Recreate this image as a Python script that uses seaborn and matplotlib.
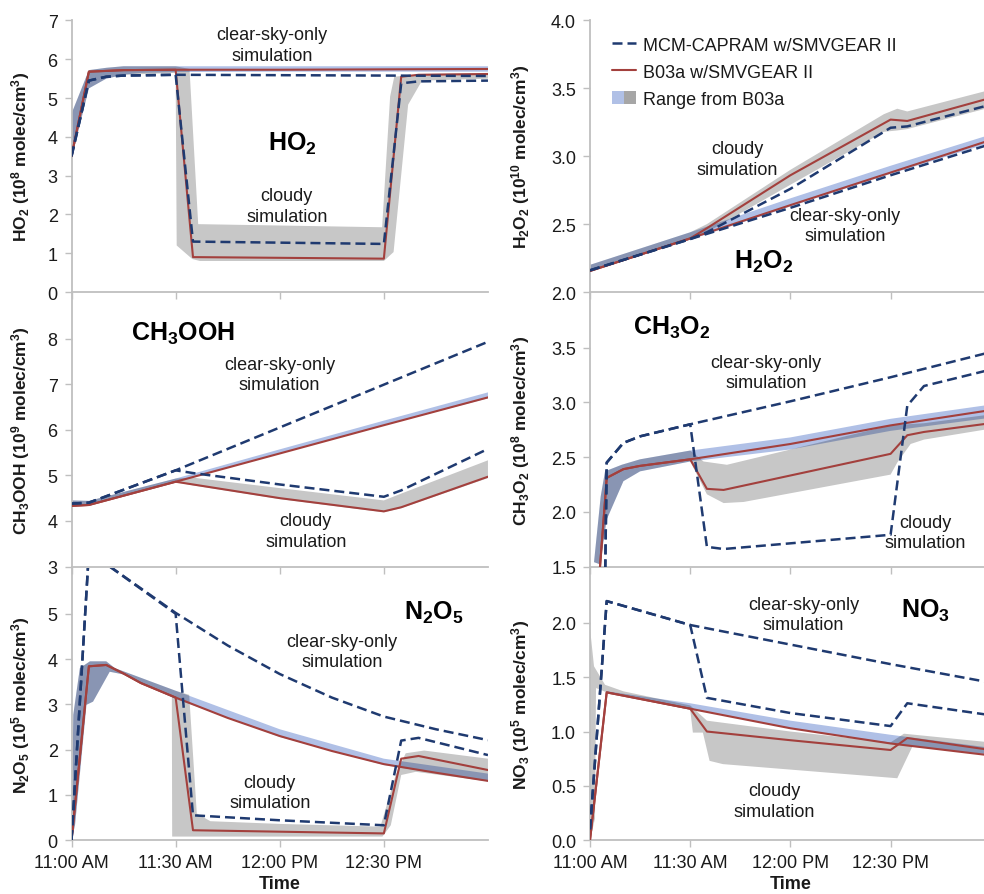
import matplotlib.pyplot as plt
import seaborn as sns
from matplotlib.patches import Patch
from matplotlib.lines import Line2D
from matplotlib.legend_handler import HandlerTuple

# ---- data (time in minutes after 11:00 AM) ----
TICK_T = [0, 30, 60, 90]
TICK_LABELS = ["11:00 AM", "11:30 AM", "12:00 PM", "12:30 PM"]

# HO2 (1e8 molec/cm3)
HO2_T_CLEAR = [0, 5, 10, 15, 30, 60, 90, 120]
HO2_B03A_CLEAR = [3.5, 5.68, 5.7, 5.72, 5.73, 5.73, 5.74, 5.75]
HO2_MCM_CLEAR = [3.5, 5.45, 5.55, 5.58, 5.6, 5.59, 5.58, 5.57]
HO2_T_CLOUDY = [0, 5, 10, 15, 30, 35, 90, 95, 100, 120]
HO2_B03A_CLOUDY = [3.5, 5.68, 5.7, 5.72, 5.73, 0.9, 0.86, 5.55, 5.6, 5.62]
HO2_MCM_CLOUDY = [3.5, 5.45, 5.55, 5.58, 5.6, 1.3, 1.24, 5.38, 5.43, 5.45]
HO2_CLEAR_T = [0, 5, 10, 15, 20, 30, 60, 90, 120]
HO2_CLEAR_LO = [3.45, 5.25, 5.5, 5.6, 5.65, 5.67, 5.68, 5.68, 5.68]
HO2_CLEAR_HI = [4.6, 5.72, 5.78, 5.82, 5.82, 5.82, 5.82, 5.82, 5.82]
HO2_CLOUDY_HI_T = [0, 5, 10, 15, 30, 34, 36.5, 89.5, 91.8, 93, 101, 120]
HO2_CLOUDY_HI = [4.6, 5.72, 5.78, 5.82, 5.82, 5.75, 1.75, 1.67, 5.04, 5.55, 5.62, 5.65]
HO2_CLOUDY_LO_T = [0, 5, 10, 15, 30, 30.3, 34.8, 37, 90, 92.8, 97, 101, 120]
HO2_CLOUDY_LO = [3.45, 5.25, 5.5, 5.6, 5.65, 1.2, 0.85, 0.8, 0.8, 1.03, 4.83, 5.45, 5.5]

# H2O2 (1e10 molec/cm3)
H2O2_T_CLEAR = [0, 30, 60, 90, 120]
H2O2_B03A_CLEAR = [2.155, 2.395, 2.64, 2.88, 3.12]
H2O2_MCM_CLEAR = [2.16, 2.39, 2.62, 2.86, 3.09]
H2O2_T_CLOUDY = [0, 30, 35, 60, 90, 95, 120]
H2O2_B03A_CLOUDY = [2.155, 2.395, 2.47, 2.86, 3.27, 3.26, 3.43]
H2O2_MCM_CLOUDY = [2.16, 2.39, 2.44, 2.76, 3.21, 3.22, 3.38]
H2O2_CLEAR_T = [0, 30, 60, 90, 120]
H2O2_CLEAR_LO = [2.15, 2.385, 2.63, 2.87, 3.1]
H2O2_CLEAR_HI = [2.2, 2.44, 2.69, 2.93, 3.16]
H2O2_CLOUDY_T = [0, 30, 35, 60, 88, 92, 95, 120]
H2O2_CLOUDY_LO = [2.15, 2.385, 2.44, 2.79, 3.18, 3.19, 3.2, 3.36]
H2O2_CLOUDY_HI = [2.2, 2.44, 2.5, 2.9, 3.31, 3.35, 3.33, 3.49]

# CH3OOH (1e9 molec/cm3)
CH3OOH_T_CLEAR = [0, 5, 30, 60, 90, 120]
CH3OOH_B03A_CLEAR = [4.33, 4.35, 4.86, 5.48, 6.1, 6.71]
CH3OOH_MCM_CLEAR = [4.38, 4.4, 5.11, 6.05, 6.99, 7.93]
CH3OOH_T_CLOUDY = [0, 5, 30, 35, 60, 90, 95, 120]
CH3OOH_B03A_CLOUDY = [4.33, 4.35, 4.86, 4.8, 4.5, 4.21, 4.3, 4.97]
CH3OOH_MCM_CLOUDY = [4.38, 4.4, 5.11, 5.05, 4.8, 4.53, 4.67, 5.58]
CH3OOH_CLEAR_LO = [4.32, 4.34, 4.86, 5.48, 6.1, 6.69]
CH3OOH_CLEAR_HI = [4.45, 4.44, 4.93, 5.57, 6.2, 6.82]
CH3OOH_CLOUDY_LO = [4.32, 4.34, 4.85, 4.78, 4.48, 4.19, 4.28, 4.94]
CH3OOH_CLOUDY_HI = [4.45, 4.44, 4.93, 4.95, 4.72, 4.45, 4.6, 5.33]

# CH3O2 (1e8 molec/cm3)
CH3O2_T_CLEAR = [0, 4, 5, 10, 15, 30, 60, 90, 120]
CH3O2_B03A_CLEAR = [0.3, 1.9, 2.31, 2.39, 2.42, 2.48, 2.62, 2.79, 2.93]
CH3O2_MCM_CLEAR = [0.0, 0.2, 2.45, 2.63, 2.69, 2.8, 3.01, 3.23, 3.46]
CH3O2_T_CLOUDY = [0, 4, 5, 10, 15, 30, 35, 40, 90, 95, 100, 120]
CH3O2_B03A_CLOUDY = [0.3, 1.9, 2.31, 2.39, 2.42, 2.48, 2.21, 2.2, 2.53, 2.7, 2.73, 2.81]
CH3O2_MCM_CLOUDY = [0.0, 0.2, 2.45, 2.63, 2.69, 2.8, 1.68, 1.66, 1.79, 2.97, 3.15, 3.3]
CH3O2_CLEAR_HI_T = [1.2, 3.2, 4.5, 9.5, 15, 30, 60, 90, 120]
CH3O2_CLEAR_HI = [1.54, 2.14, 2.37, 2.43, 2.48, 2.56, 2.68, 2.85, 2.98]
CH3O2_CLEAR_LO_T = [3, 5, 10, 15, 30, 60, 90, 120]
CH3O2_CLEAR_LO = [1.52, 1.93, 2.28, 2.37, 2.46, 2.57, 2.74, 2.86]
CH3O2_CLOUDY_HI_T = [1.2, 3.2, 4.5, 9.5, 15, 30, 34, 41, 90, 95, 100, 120]
CH3O2_CLOUDY_HI = [1.54, 2.14, 2.37, 2.43, 2.48, 2.56, 2.46, 2.43, 2.79, 2.8, 2.81, 2.89]
CH3O2_CLOUDY_LO_T = [3, 5, 10, 15, 30, 35, 40, 46, 90, 92, 96, 100, 120]
CH3O2_CLOUDY_LO = [1.52, 1.93, 2.28, 2.37, 2.46, 2.16, 2.08, 2.09, 2.34, 2.45, 2.62, 2.66, 2.76]

# N2O5 (1e5 molec/cm3)
N2O5_T_CLEAR = [0, 5, 10, 15, 20, 30, 45, 60, 75, 90, 105, 120]
N2O5_B03A_CLEAR = [0, 3.84, 3.87, 3.68, 3.47, 3.15, 2.7, 2.3, 1.97, 1.68, 1.49, 1.31]
N2O5_T_CLOUDY = [0, 5, 10, 15, 20, 30, 35, 90, 95, 100, 120]
N2O5_B03A_CLOUDY = [0, 3.84, 3.87, 3.68, 3.47, 3.15, 0.22, 0.15, 1.8, 1.86, 1.55]
N2O5_T_MCM_CLEAR = [0, 5, 30, 45, 60, 75, 90, 105, 120]
N2O5_MCM_CLEAR = [0, 6.37, 5.02, 4.3, 3.67, 3.15, 2.73, 2.45, 2.21]
N2O5_T_MCM_CLOUDY = [0, 5, 30, 35, 60, 90, 95, 100, 120]
N2O5_MCM_CLOUDY = [0, 6.37, 5.0, 0.55, 0.44, 0.33, 2.2, 2.26, 1.88]
N2O5_CLEAR_HI_T = [0, 0.5, 2.4, 5.3, 10, 12.5, 30, 60, 90, 120]
N2O5_CLEAR_HI = [0.1, 2.77, 3.8, 3.95, 3.95, 3.8, 3.3, 2.45, 1.8, 1.47]
N2O5_CLEAR_LO_T = [0, 1, 4.3, 6.2, 11, 15, 30, 60, 90, 120]
N2O5_CLEAR_LO = [0, 0.33, 2.99, 3.06, 3.72, 3.66, 3.12, 2.28, 1.66, 1.3]
N2O5_CLOUDY_HI_T = [0, 0.5, 2.4, 5.3, 10, 12.5, 30, 33.9, 36.1, 40, 60, 89, 93.4, 96.3, 101.6, 120]
N2O5_CLOUDY_HI = [0.1, 2.77, 3.8, 3.95, 3.95, 3.8, 3.3, 3.21, 0.59, 0.42, 0.36, 0.3, 1.44, 1.92, 1.98, 1.8]
N2O5_CLOUDY_LO_T = [0, 1, 4.3, 6.2, 11, 15, 28.9, 29, 89.6, 92, 95, 99.2, 120]
N2O5_CLOUDY_LO = [0, 0.33, 2.99, 3.06, 3.72, 3.66, 3.17, 0.08, 0.08, 0.33, 1.44, 1.51, 1.3]

# NO3 (1e5 molec/cm3)
NO3_T_CLEAR = [0, 5, 30, 60, 90, 120]
NO3_B03A_CLEAR = [0, 1.36, 1.21, 1.03, 0.89, 0.78]
NO3_MCM_CLEAR = [0.1, 2.2, 1.98, 1.8, 1.62, 1.45]
NO3_T_CLOUDY = [0, 5, 30, 35, 60, 90, 95, 120]
NO3_B03A_CLOUDY = [0, 1.36, 1.21, 1.0, 0.92, 0.83, 0.94, 0.83]
NO3_MCM_CLOUDY = [0.1, 2.2, 1.98, 1.31, 1.17, 1.05, 1.26, 1.15]
NO3_CLEAR_LO = [0, 1.36, 1.21, 1.03, 0.89, 0.78]
NO3_CLEAR_HI = [0, 1.37, 1.26, 1.1, 0.97, 0.85]
NO3_CLOUDY_HI_T = [0, 1.2, 4.5, 10, 30, 35, 45, 60, 90, 94, 120]
NO3_CLOUDY_HI = [1.95, 1.6, 1.43, 1.37, 1.24, 1.1, 1.06, 1.0, 0.9, 0.98, 0.9]
NO3_CLOUDY_LO_T = [0, 1.5, 1.8, 5, 30, 30.8, 33.8, 35.8, 39.8, 92, 96.5, 120]
NO3_CLOUDY_LO = [0, 0.2, 1.4, 1.36, 1.2, 0.99, 0.99, 0.73, 0.7, 0.57, 0.86, 0.79]

NAVY = "#1f3a70"
RED = "#a3403d"
BLUE = "#b0c0e6"
GRID = "#bfbfbf"
TXT = "#1a1a1a"

sns.set_theme(style="ticks")
plt.rcParams["font.family"] = ["Liberation Sans", "DejaVu Sans"]
plt.rcParams["mathtext.default"] = "regular"

fig = plt.figure(figsize=(9.84, 8.95), dpi=100)

rows = [(0.6726, 0.3034), (0.3659, 0.3056), (0.0601, 0.3036)]
ax_ho2 = fig.add_axes([0.0727, rows[0][0], 0.4232, rows[0][1]])
ax_h2o2 = fig.add_axes([0.5996, rows[0][0], 0.4073, rows[0][1]])
ax_ch3ooh = fig.add_axes([0.0727, rows[1][0], 0.4232, rows[1][1]])
ax_ch3o2 = fig.add_axes([0.5996, rows[1][0], 0.4073, rows[1][1]])
ax_n2o5 = fig.add_axes([0.0727, rows[2][0], 0.4232, rows[2][1]])
ax_no3 = fig.add_axes([0.5996, rows[2][0], 0.4073, rows[2][1]])


def fill_range(ax, t_hi, hi, t_lo, lo, cloudy):
    xs = list(t_hi) + list(t_lo)[::-1]
    ys = list(hi) + list(lo)[::-1]
    if cloudy:
        ax.fill(xs, ys, color="black", alpha=0.22, lw=0, zorder=2)
    else:
        ax.fill(xs, ys, color=BLUE, lw=0, zorder=1)


def line(ax, t, v, mcm):
    if mcm:
        sns.lineplot(x=t, y=v, ax=ax, color=NAVY, lw=1.8, linestyle=(0, (4, 2)),
                     estimator=None, sort=False, legend=False, zorder=4)
    else:
        sns.lineplot(x=t, y=v, ax=ax, color=RED, lw=1.5,
                     estimator=None, sort=False, legend=False, zorder=3)


def style(ax, ylim, yticks, ylabels, ylabel, bottom, lab_x):
    ax.set_xlim(0, 120)
    ax.set_ylim(*ylim)
    ax.set_xticks(TICK_T)
    ax.set_yticks(yticks)
    ax.set_yticklabels(ylabels)
    if bottom:
        ax.set_xticklabels(TICK_LABELS)
        ax.set_xlabel("Time", fontsize=13, fontweight="bold", labelpad=3, color=TXT)
    else:
        ax.set_xticklabels([])
        ax.set_xlabel("")
    ax.set_ylabel(ylabel, fontsize=12.5, fontweight="bold", color=TXT)
    ax.yaxis.set_label_coords(lab_x, 0.5)
    for s in ["top", "right"]:
        ax.spines[s].set_visible(False)
    for s in ["left", "bottom"]:
        ax.spines[s].set_color(GRID)
        ax.spines[s].set_linewidth(1.3)
    ax.tick_params(axis="both", length=5, width=1, color=GRID, labelsize=13,
                   labelcolor=TXT)
    ax.tick_params(axis="x", pad=5)
    ax.tick_params(axis="y", pad=5)
    ax.set_facecolor("none")


def notes(ax, title, title_xy, clear_xy, cloudy_xy):
    ax.text(*title_xy, title, fontsize=18, fontweight="bold", ha="center", va="center", color="black")
    ax.text(*clear_xy, "clear-sky-only\nsimulation", fontsize=13, ha="center", va="center",
            color=TXT, linespacing=1.25)
    ax.text(*cloudy_xy, "cloudy\nsimulation", fontsize=13, ha="center", va="center",
            color=TXT, linespacing=1.25)


# HO2
ax = ax_ho2
fill_range(ax, HO2_CLEAR_T, HO2_CLEAR_HI, HO2_CLEAR_T, HO2_CLEAR_LO, False)
fill_range(ax, HO2_CLOUDY_HI_T, HO2_CLOUDY_HI, HO2_CLOUDY_LO_T, HO2_CLOUDY_LO, True)
line(ax, HO2_T_CLEAR, HO2_B03A_CLEAR, False)
line(ax, HO2_T_CLOUDY, HO2_B03A_CLOUDY, False)
line(ax, HO2_T_CLEAR, HO2_MCM_CLEAR, True)
line(ax, HO2_T_CLOUDY, HO2_MCM_CLOUDY, True)
style(ax, (0, 7), range(0, 8), [str(i) for i in range(0, 8)],
      r"HO$_2$ (10$^8$ molec/cm$^3$)", False, -0.095)
notes(ax, r"HO$_2$", (63.5, 3.85), (57.7, 6.37), (62, 2.22))

# H2O2
ax = ax_h2o2
fill_range(ax, H2O2_CLEAR_T, H2O2_CLEAR_HI, H2O2_CLEAR_T, H2O2_CLEAR_LO, False)
fill_range(ax, H2O2_CLOUDY_T, H2O2_CLOUDY_HI, H2O2_CLOUDY_T, H2O2_CLOUDY_LO, True)
line(ax, H2O2_T_CLEAR, H2O2_B03A_CLEAR, False)
line(ax, H2O2_T_CLOUDY, H2O2_B03A_CLOUDY, False)
line(ax, H2O2_T_CLEAR, H2O2_MCM_CLEAR, True)
line(ax, H2O2_T_CLOUDY, H2O2_MCM_CLOUDY, True)
yt = [2.0, 2.5, 3.0, 3.5, 4.0]
style(ax, (2, 4), yt, [f"{v:.1f}" for v in yt],
      r"H$_2$O$_2$ (10$^{10}$ molec/cm$^3$)", False, -0.145)
notes(ax, r"H$_2$O$_2$", (52, 2.23), (76.4, 2.49), (44, 2.98))

handles = [
    Line2D([], [], color=NAVY, lw=1.8, linestyle=(0, (4, 2))),
    Line2D([], [], color=RED, lw=1.5),
    (Patch(facecolor=BLUE, lw=0), Patch(facecolor="#a6a6a6", lw=0)),
]
ax.legend(handles, ["MCM-CAPRAM w/SMVGEAR II", "B03a w/SMVGEAR II", "Range from B03a"],
          handler_map={tuple: HandlerTuple(ndivide=None, pad=0)},
          loc="upper left", bbox_to_anchor=(0.055, 0.94), frameon=False, fontsize=13,
          handlelength=1.35, handletextpad=0.35, labelspacing=0.55, borderaxespad=0,
          borderpad=0, labelcolor=TXT)

# CH3OOH
ax = ax_ch3ooh
fill_range(ax, CH3OOH_T_CLEAR, CH3OOH_CLEAR_HI, CH3OOH_T_CLEAR, CH3OOH_CLEAR_LO, False)
fill_range(ax, CH3OOH_T_CLOUDY, CH3OOH_CLOUDY_HI, CH3OOH_T_CLOUDY, CH3OOH_CLOUDY_LO, True)
line(ax, CH3OOH_T_CLEAR, CH3OOH_B03A_CLEAR, False)
line(ax, CH3OOH_T_CLOUDY, CH3OOH_B03A_CLOUDY, False)
line(ax, CH3OOH_T_CLEAR, CH3OOH_MCM_CLEAR, True)
line(ax, CH3OOH_T_CLOUDY, CH3OOH_MCM_CLOUDY, True)
style(ax, (3, 9), range(3, 9), [str(i) for i in range(3, 9)],
      r"CH$_3$OOH (10$^9$ molec/cm$^3$)", False, -0.095)
notes(ax, r"CH$_3$OOH", (32.1, 8.13), (59.9, 7.22), (67.5, 3.78))

# CH3O2
ax = ax_ch3o2
fill_range(ax, CH3O2_CLEAR_HI_T, CH3O2_CLEAR_HI, CH3O2_CLEAR_LO_T, CH3O2_CLEAR_LO, False)
fill_range(ax, CH3O2_CLOUDY_HI_T, CH3O2_CLOUDY_HI, CH3O2_CLOUDY_LO_T, CH3O2_CLOUDY_LO, True)
line(ax, CH3O2_T_CLEAR, CH3O2_B03A_CLEAR, False)
line(ax, CH3O2_T_CLOUDY, CH3O2_B03A_CLOUDY, False)
line(ax, CH3O2_T_CLEAR, CH3O2_MCM_CLEAR, True)
line(ax, CH3O2_T_CLOUDY, CH3O2_MCM_CLOUDY, True)
yt = [1.5, 2.0, 2.5, 3.0, 3.5]
style(ax, (1.5, 4.0), yt, [f"{v:.1f}" for v in yt],
      r"CH$_3$O$_2$ (10$^8$ molec/cm$^3$)", False, -0.145)
notes(ax, r"CH$_3$O$_2$", (24.4, 3.69), (52.7, 3.27), (100.3, 1.81))

# N2O5
ax = ax_n2o5
fill_range(ax, N2O5_CLEAR_HI_T, N2O5_CLEAR_HI, N2O5_CLEAR_LO_T, N2O5_CLEAR_LO, False)
fill_range(ax, N2O5_CLOUDY_HI_T, N2O5_CLOUDY_HI, N2O5_CLOUDY_LO_T, N2O5_CLOUDY_LO, True)
line(ax, N2O5_T_CLEAR, N2O5_B03A_CLEAR, False)
line(ax, N2O5_T_CLOUDY, N2O5_B03A_CLOUDY, False)
line(ax, N2O5_T_MCM_CLEAR, N2O5_MCM_CLEAR, True)
line(ax, N2O5_T_MCM_CLOUDY, N2O5_MCM_CLOUDY, True)
style(ax, (0, 6), range(0, 6), [str(i) for i in range(0, 6)],
      r"N$_2$O$_5$ (10$^5$ molec/cm$^3$)", True, -0.095)
notes(ax, r"N$_2$O$_5$", (104.5, 5.05), (78, 4.17), (57.1, 1.06))

# NO3
ax = ax_no3
fill_range(ax, NO3_T_CLEAR, NO3_CLEAR_HI, NO3_T_CLEAR, NO3_CLEAR_LO, False)
fill_range(ax, NO3_CLOUDY_HI_T, NO3_CLOUDY_HI, NO3_CLOUDY_LO_T, NO3_CLOUDY_LO, True)
line(ax, NO3_T_CLEAR, NO3_B03A_CLEAR, False)
line(ax, NO3_T_CLOUDY, NO3_B03A_CLOUDY, False)
line(ax, NO3_T_CLEAR, NO3_MCM_CLEAR, True)
line(ax, NO3_T_CLOUDY, NO3_MCM_CLOUDY, True)
yt = [0.0, 0.5, 1.0, 1.5, 2.0]
style(ax, (0, 2.5), yt, [f"{v:.1f}" for v in yt],
      r"NO$_3$ (10$^5$ molec/cm$^3$)", True, -0.145)
notes(ax, r"NO$_3$", (100.5, 2.12), (63.9, 2.08), (55.2, 0.36))

fig.savefig("out.png", dpi=100, facecolor="white")
